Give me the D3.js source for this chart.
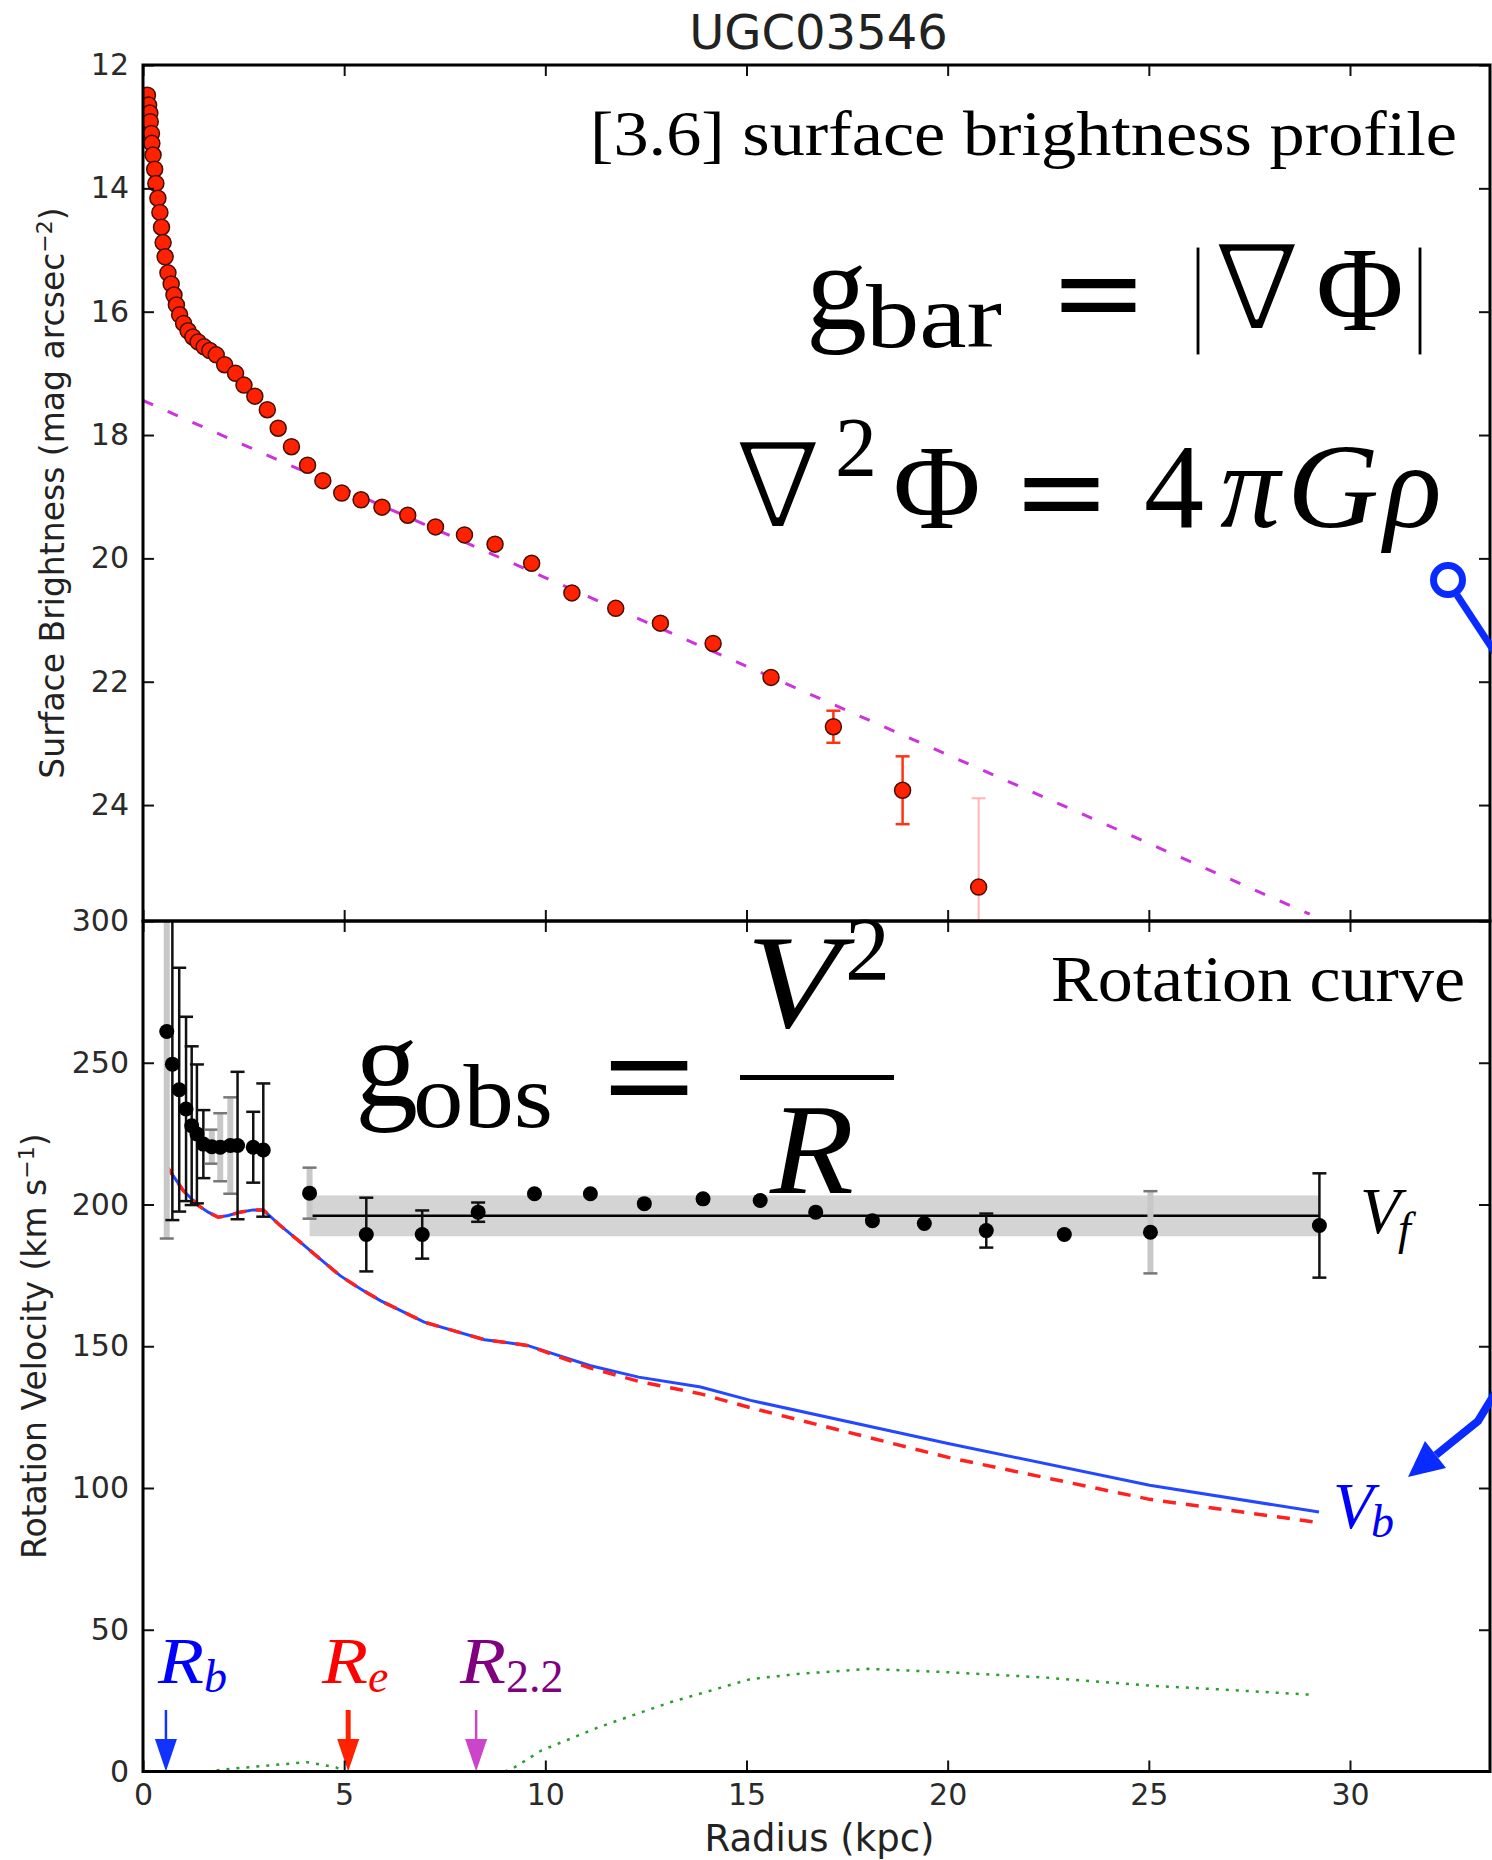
<!DOCTYPE html>
<html>
<head>
<meta charset="utf-8">
<script src="https://d3js.org/d3.v7.min.js"></script>
<style>
  body { margin: 0; background: #fff; }
</style>
</head>
<body>
<script>
// surface brightness profile, [3.6] band
const sbR = [0.11, 0.14, 0.17, 0.18, 0.21, 0.22, 0.25, 0.29, 0.32, 0.37, 0.42, 0.46, 0.5, 0.55, 0.62, 0.7, 0.77, 0.83, 0.91, 1.01,
  1.12, 1.24, 1.37, 1.52, 1.66, 1.82, 2.03, 2.3, 2.51, 2.78, 3.09, 3.36, 3.69, 4.09, 4.47, 4.94, 5.42, 5.94, 6.58, 7.27,
  7.99, 8.75, 9.66, 10.66, 11.75, 12.86, 14.17, 15.61, 17.16, 18.88, 20.77];
const sbMu = [12.49, 12.65, 12.78, 12.92, 13.11, 13.27, 13.46, 13.69, 13.92, 14.16, 14.39, 14.63, 14.88, 15.11, 15.37, 15.55, 15.73, 15.89, 16.05, 16.19,
  16.31, 16.41, 16.49, 16.57, 16.63, 16.7, 16.86, 17.0, 17.19, 17.37, 17.59, 17.89, 18.19, 18.49, 18.74, 18.94, 19.05, 19.17, 19.3, 19.49,
  19.62, 19.77, 20.08, 20.56, 20.81, 21.05, 21.38, 21.93, 22.73, 23.76, 25.33];
const sbErr = [0, 0, 0, 0, 0, 0, 0, 0, 0, 0, 0, 0, 0, 0, 0, 0, 0, 0, 0, 0,
  0, 0, 0, 0, 0, 0, 0, 0, 0, 0, 0, 0, 0, 0, 0, 0, 0, 0, 0, 0,
  0, 0, 0, 0, 0, 0, 0, 0, 0.26, 0.55, 1.44];
// exponential disk fit (dashed)
const diskR = [0, 29.0];
const diskMu = [17.44, 25.77];

// rotation curve
const rcR = [0.59, 0.73, 0.9, 1.07, 1.21, 1.34, 1.5, 1.71, 1.92, 2.17, 2.35, 2.74, 2.99,
  4.14, 5.55, 6.94, 8.33, 9.73, 11.12, 12.46, 13.92, 15.34, 16.72, 18.13, 19.42, 20.96, 22.9, 25.04, 29.24];
const rcV = [261, 249.5, 240.5, 233.7, 227.8, 224.9, 221.3, 220.4, 220.2, 220.8, 220.8, 220.2, 219.2,
  204, 189.4, 189.4, 197.3, 203.8, 203.8, 200.3, 202, 201.4, 197.3, 194.3, 193.3, 190.8, 189.4, 190.2, 192.6];
const rcErr = [73, 55, 43, 32.5, 28, 24.5, 12, 6, 12, 17, 26, 12.5, 23.5,
  9, 13, 8.5, 3.4, 0, 0, 0, 0, 0, 0, 0, 0, 6, 0, 14.5, 18.4];
const rcGray = [1, 0, 0, 0, 0, 0, 0, 1, 1, 1, 0, 0, 0,
  1, 0, 0, 0, 0, 0, 0, 0, 0, 0, 0, 0, 0, 0, 1, 0];
const flatR = [4.14, 29.24];
const vFlat = 196;
const vFlatErr = 7.2;

// baryonic (blue), stellar disk (red dashed), gas (green dotted)
const barR = [0.55, 1.0, 1.38, 1.62, 1.87, 2.12, 2.41, 2.74, 2.99, 3.41, 3.91, 4.4, 4.9, 5.4, 5.9, 6.99, 8.49, 9.55,
  11.1, 12.32, 13.86, 15.1, 20.04, 25.02, 29.23];
const vBar = [214.3, 204.9, 199.6, 197.3, 195.5, 196.1, 197.3, 198.1, 198.1, 192.6, 186.7, 180.8, 174.9, 170.3, 166.1, 158.5, 152.3, 150.3,
  143.2, 139.1, 135.6, 130.9, 115.6, 101, 91.5];
const vDisk = [214.3, 204.9, 199.6, 197.3, 195.5, 196.1, 197.3, 198.1, 198.1, 192.6, 186.7, 180.8, 174.9, 170.3, 166.1, 158.5, 152.3, 150.3,
  142.4, 137.6, 133.2, 128.3, 110.7, 96, 87.8];
const gasR = [1.58, 2.2, 3.12, 4.07, 4.79, 5.0, 9.0, 9.24, 9.9, 11.32, 13.1, 15.1, 16.27, 18.03, 20.03, 22.37, 25.0, 26.84, 29.13];
const gasV = [0, 1, 2.1, 3.3, 1.5, 0, 0, 1.5, 7.4, 15.6, 24.4, 32.6, 34.4, 36.2, 35, 33.2, 30.3, 28.9, 27];

// radius markers
const markR = [0.57, 5.1, 8.28];
const markName = ["b", "e", "2.2"];
const markColor = ["#1133ff", "#ff2200", "#cc44cc"];
const markTextColor = ["#0000ff", "#ff0000", "#800080"];

const xTicks = [0, 5, 10, 15, 20, 25, 30];
const sbTicks = [12, 14, 16, 18, 20, 22, 24];
const vTicks = [0, 50, 100, 150, 200, 250, 300];

const W = 1492, H = 1860;
const L = 143, R = 1490, T = 65, MID = 921, B = 1771.5;
const SANS = "'DejaVu Sans', sans-serif";
const SERIF = "'Liberation Serif', 'Times New Roman', serif";
const DJS = "'DejaVu Serif', serif";

const svg = d3.select("body").append("svg")
  .attr("width", W)
  .attr("height", H)
  .style("background", "#fff");

const x = d3.scaleLinear().domain([0, 33.48]).range([L, R]);
const ySB = d3.scaleLinear().domain([12, 25.88]).range([T, MID]);
const yV = d3.scaleLinear().domain([0, 300]).range([B, MID]);

const defs = svg.append("defs");
defs.append("clipPath").attr("id", "clipTop")
  .append("rect").attr("x", L).attr("y", T).attr("width", R - L).attr("height", MID - T);
defs.append("clipPath").attr("id", "clipBot")
  .append("rect").attr("x", L).attr("y", MID).attr("width", R - L).attr("height", B - MID);

// ---------- top panel ----------
const topG = svg.append("g").attr("clip-path", "url(#clipTop)");

topG.append("path")
  .datum(diskR.map((r, i) => [r, diskMu[i]]))
  .attr("d", d3.line().x(d => x(d[0])).y(d => ySB(d[1])))
  .style("fill", "none")
  .style("stroke", "#cc33dd")
  .style("stroke-width", 3)
  .style("stroke-dasharray", "11,16");

const sbData = sbR.map((r, i) => ({ r: r, mu: sbMu[i], e: sbErr[i] }));

topG.selectAll(".sberr")
  .data(sbData.filter(d => d.e > 0))
  .enter()
  .append("g")
  .each(function (d) {
    const g = d3.select(this);
    const c = d.e > 1 ? "#ffb5b5" : "#ff3311";
    const w = d.e > 1 ? 2 : 2.5;
    g.append("line").attr("x1", x(d.r)).attr("x2", x(d.r))
      .attr("y1", ySB(d.mu - d.e)).attr("y2", ySB(d.mu + d.e))
      .style("stroke", c).style("stroke-width", w);
    [d.mu - d.e, d.mu + d.e].forEach(v => {
      g.append("line").attr("x1", x(d.r) - 7).attr("x2", x(d.r) + 7)
        .attr("y1", ySB(v)).attr("y2", ySB(v))
        .style("stroke", c).style("stroke-width", w);
    });
  });

topG.selectAll(".sbpt")
  .data(sbData)
  .enter()
  .append("circle")
  .attr("cx", d => x(d.r))
  .attr("cy", d => ySB(d.mu))
  .attr("r", 8)
  .style("fill", "#ff2200")
  .style("stroke", "#4a0d00")
  .style("stroke-width", 1.5);

// ---------- bottom panel ----------
const botG = svg.append("g").attr("clip-path", "url(#clipBot)");

botG.append("rect")
  .attr("x", x(flatR[0]))
  .attr("y", yV(vFlat + vFlatErr))
  .attr("width", x(flatR[1]) - x(flatR[0]))
  .attr("height", yV(vFlat - vFlatErr) - yV(vFlat + vFlatErr))
  .style("fill", "#d4d4d4");

botG.append("line")
  .attr("x1", x(flatR[0])).attr("x2", x(flatR[1]))
  .attr("y1", yV(vFlat)).attr("y2", yV(vFlat))
  .style("stroke", "#000")
  .style("stroke-width", 2.5);

const vline = d3.line().x(d => x(d[0])).y(d => yV(d[1]));

botG.append("path")
  .datum(gasR.map((r, i) => [r, gasV[i]]))
  .attr("d", vline)
  .style("fill", "none")
  .style("stroke", "#2a9d2a")
  .style("stroke-width", 2.5)
  .style("stroke-dasharray", "3,7");

botG.append("path")
  .datum(barR.map((r, i) => [r, vBar[i]]))
  .attr("d", vline)
  .style("fill", "none")
  .style("stroke", "#2448ff")
  .style("stroke-width", 3);

botG.append("path")
  .datum(barR.map((r, i) => [r, vDisk[i]]))
  .attr("d", vline)
  .style("fill", "none")
  .style("stroke", "#ff2020")
  .style("stroke-width", 3.5)
  .style("stroke-dasharray", "13,10");

const rcData = rcR.map((r, i) => ({ r: r, v: rcV[i], e: rcErr[i], gray: rcGray[i] }));

botG.selectAll(".rcerr")
  .data(rcData.filter(d => d.e > 0))
  .enter()
  .append("g")
  .each(function (d) {
    const g = d3.select(this);
    g.append("line").attr("x1", x(d.r)).attr("x2", x(d.r))
      .attr("y1", yV(d.v - d.e)).attr("y2", yV(d.v + d.e))
      .style("stroke", d.gray ? "#c8c8c8" : "#111")
      .style("stroke-width", d.gray ? 6 : 2.5);
    [d.v - d.e, d.v + d.e].forEach(v => {
      g.append("line").attr("x1", x(d.r) - 7).attr("x2", x(d.r) + 7)
        .attr("y1", yV(v)).attr("y2", yV(v))
        .style("stroke", d.gray ? "#777" : "#111")
        .style("stroke-width", 2.5);
    });
  });

botG.selectAll(".rcpt")
  .data(rcData)
  .enter()
  .append("circle")
  .attr("cx", d => x(d.r))
  .attr("cy", d => yV(d.v))
  .attr("r", 7.5)
  .style("fill", "#000");

// radius markers: down arrows at the axis
markR.forEach((r, i) => {
  const cx = x(r);
  svg.append("line")
    .attr("x1", cx).attr("x2", cx)
    .attr("y1", 1710).attr("y2", 1745)
    .style("stroke", markColor[i])
    .style("stroke-width", i === 1 ? 5 : 2.5);
  svg.append("path")
    .attr("d", `M${cx - 11},1739 L${cx + 11},1739 L${cx},${B}Z`)
    .style("fill", markColor[i]);
});

// ---------- axes ----------
function styleAxis(g) {
  g.select(".domain").remove();
  g.selectAll(".tick line").style("stroke", "#111").style("stroke-width", 2);
  g.selectAll(".tick text")
    .style("font-family", SANS)
    .style("font-size", "30px")
    .style("fill", "#2a2a2a");
}

svg.append("g").attr("transform", `translate(${L},0)`)
  .call(d3.axisLeft(ySB).tickValues(sbTicks).tickSize(-11).tickPadding(14)).call(styleAxis);
svg.append("g").attr("transform", `translate(${R},0)`)
  .call(d3.axisRight(ySB).tickValues(sbTicks).tickSize(-11).tickFormat("")).call(styleAxis);
svg.append("g").attr("transform", `translate(0,${T})`)
  .call(d3.axisTop(x).tickValues(xTicks).tickSize(-11).tickFormat("")).call(styleAxis);
svg.append("g").attr("transform", `translate(0,${MID})`)
  .call(d3.axisBottom(x).tickValues(xTicks).tickSize(-11).tickFormat("")).call(styleAxis);

svg.append("g").attr("transform", `translate(${L},0)`)
  .call(d3.axisLeft(yV).tickValues(vTicks).tickSize(-11).tickPadding(14)).call(styleAxis);
svg.append("g").attr("transform", `translate(${R},0)`)
  .call(d3.axisRight(yV).tickValues(vTicks).tickSize(-11).tickFormat("")).call(styleAxis);
svg.append("g").attr("transform", `translate(0,${MID})`)
  .call(d3.axisTop(x).tickValues(xTicks).tickSize(-11).tickFormat("")).call(styleAxis);
svg.append("g").attr("transform", `translate(0,${B})`)
  .call(d3.axisBottom(x).tickValues(xTicks).tickSize(-11).tickPadding(12)).call(styleAxis);

[[T, MID], [MID, B]].forEach(p => {
  svg.append("rect")
    .attr("x", L).attr("y", p[0])
    .attr("width", R - L).attr("height", p[1] - p[0])
    .style("fill", "none")
    .style("stroke", "#000")
    .style("stroke-width", 3);
});

// axis titles
svg.append("text")
  .attr("x", (L + R) / 2 + 2).attr("y", 49)
  .attr("text-anchor", "middle")
  .style("font-family", SANS).style("font-size", "48px").style("fill", "#222")
  .text("UGC03546");

svg.append("text")
  .attr("x", (L + R) / 2 + 3).attr("y", 1851)
  .attr("text-anchor", "middle")
  .style("font-family", SANS).style("font-size", "37px").style("fill", "#222")
  .text("Radius (kpc)");

const ylab1 = svg.append("text")
  .attr("transform", `translate(64,${(T + MID) / 2}) rotate(-90)`)
  .attr("text-anchor", "middle")
  .style("font-family", SANS).style("font-size", "33px").style("fill", "#222");
ylab1.append("tspan").text("Surface Brightness (mag arcsec");
ylab1.append("tspan").attr("dy", -12).style("font-size", "22px").text("\u22122");
ylab1.append("tspan").attr("dy", 12).text(")");

const ylab2 = svg.append("text")
  .attr("transform", `translate(46,${(MID + B) / 2}) rotate(-90)`)
  .attr("text-anchor", "middle")
  .style("font-family", SANS).style("font-size", "33px").style("fill", "#222");
ylab2.append("tspan").text("Rotation Velocity (km s");
ylab2.append("tspan").attr("dy", -12).style("font-size", "22px").text("\u22121");
ylab2.append("tspan").attr("dy", 12).text(")");

// ---------- annotations ----------
function piece(s, px, py, size, font, italic, color) {
  return svg.append("text")
    .attr("x", px).attr("y", py)
    .style("font-family", font)
    .style("font-size", size + "px")
    .style("font-style", italic ? "italic" : "normal")
    .style("fill", color || "#000")
    .text(s);
}
// thin a heavy glyph by painting a white outline over its edges
function thin(t, w) {
  return t.style("stroke", "#fff").style("stroke-width", w).style("stroke-linejoin", "round");
}

piece("[3.6] surface brightness profile", 590, 155, 64, SERIF)
  .attr("textLength", 867).attr("lengthAdjust", "spacingAndGlyphs");
piece("Rotation curve", 1051, 1001, 66, SERIF)
  .attr("textLength", 414).attr("lengthAdjust", "spacingAndGlyphs");

// g_bar = |grad Phi|
piece("g", 806, 329, 122, SERIF);
piece("bar", 866, 347, 92, SERIF).attr("textLength", 136).attr("lengthAdjust", "spacingAndGlyphs");
piece("=", 1049, 333, 118, DJS);
thin(piece("|", 1186, 330, 120, SERIF), 3);
thin(piece("\u2207", 1216, 330, 122, SERIF), 4);
piece("\u03A6", 1316, 330, 120, SERIF);
thin(piece("|", 1408, 330, 120, SERIF), 3);

// laplacian Phi = 4 pi G rho
thin(piece("\u2207", 737, 528, 122, SERIF), 4);
piece("2", 835, 476, 84, SERIF);
piece("\u03A6", 893, 528, 120, SERIF);
piece("=", 1012, 532, 118, DJS);
piece("4", 1144, 527, 120, SERIF);
piece("\u03C0", 1220, 527, 120, SERIF, true);
piece("G", 1287, 527, 120, SERIF, true).attr("textLength", 92).attr("lengthAdjust", "spacingAndGlyphs");
piece("\u03C1", 1384, 527, 120, SERIF, true);

// g_obs = V^2 / R
piece("g", 355, 1106, 126, SERIF);
piece("obs", 413, 1127, 92, SERIF).attr("textLength", 140).attr("lengthAdjust", "spacingAndGlyphs");
piece("=", 598, 1116, 122, DJS);
svg.append("rect").attr("x", 740).attr("y", 1075).attr("width", 154).attr("height", 5).style("fill", "#000");
piece("V", 746, 1027, 134, SERIF, true).attr("textLength", 94).attr("lengthAdjust", "spacingAndGlyphs");
piece("2", 845, 980, 90, SERIF);
piece("R", 770, 1193, 130, SERIF, true).attr("textLength", 84).attr("lengthAdjust", "spacingAndGlyphs");

// V_f and V_b labels
piece("V", 1360, 1233, 66, SERIF, true);
piece("f", 1398, 1244, 46, SERIF, true);
piece("V", 1333, 1528, 66, SERIF, true, "#0000ff");
piece("b", 1371, 1537, 46, SERIF, true, "#0000ff");

// R_b, R_e, R_2.2 labels
const markLabX = [158, 322, 460];
markName.forEach((n, i) => {
  piece("R", markLabX[i], 1683, 66, SERIF, true, markTextColor[i])
    .attr("textLength", 46).attr("lengthAdjust", "spacingAndGlyphs");
  piece(n, markLabX[i] + 46, 1692, 46, SERIF, n !== "2.2", markTextColor[i]);
});

// blue pointer pieces at the right edge
svg.append("circle")
  .attr("cx", 1448).attr("cy", 580).attr("r", 14.5)
  .style("fill", "none").style("stroke", "#0a2bff").style("stroke-width", 7);
svg.append("line")
  .attr("x1", 1457).attr("y1", 595).attr("x2", 1505).attr("y2", 668)
  .style("stroke", "#0a2bff").style("stroke-width", 7);
svg.append("path")
  .attr("d", "M1500,1385 L1478,1421 L1436,1455")
  .style("fill", "none").style("stroke", "#0a2bff").style("stroke-width", 8);
svg.append("path")
  .attr("d", "M1408,1477 L1425,1441 L1446,1468Z")
  .style("fill", "#0a2bff");
</script>
</body>
</html>
